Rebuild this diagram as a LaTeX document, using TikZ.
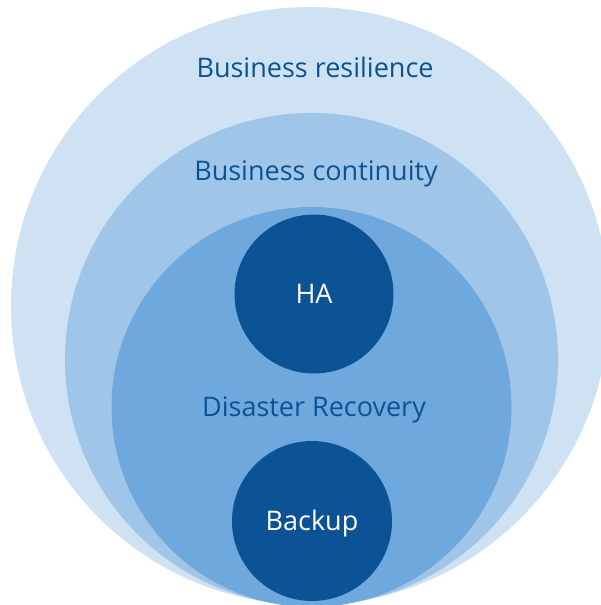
\documentclass[tikz,border=0pt]{standalone}
\usepackage{fontspec}
\setmainfont{Open Sans}
\usetikzlibrary{shapes}
\definecolor{ringA}{HTML}{CFE2F3}
\definecolor{ringB}{HTML}{9FC5E8}
\definecolor{ringC}{HTML}{6FA8DC}
\definecolor{core}{HTML}{0B5394}
\tikzstyle{ring} = [circle, inner sep=0pt, outer sep=0pt]
\tikzstyle{label} = [text=core, font=\fontsize{27}{32}\selectfont]
\tikzstyle{corelabel} = [text=white, font=\fontsize{27}{32}\selectfont]

\begin{document}
\begin{tikzpicture}[x=1pt, y=-1pt]

    \useasboundingbox (0,0) rectangle (601,605);
    \clip (0,0) rectangle (601,605);

    % Place rings
    \node [ring, fill=ringA, minimum size=598] (resilience) at (310,306) {};
    \node [ring, fill=ringB, minimum size=493] (continuity) at (311.5,359.5) {};
    \node [ring, fill=ringC, minimum size=400] (recovery) at (311.5,407) {};
    \node [ring, fill=core, minimum size=159] (ha) at (314,294) {};
    \node [ring, fill=core, minimum size=160] (backup) at (312,521) {};

    % Labels
    \node [label] (resiliencetext) at (315,67) {Business resilience};
    \node [label] (continuitytext) at (316,174) {Business continuity};
    \node [label] (recoverytext) at (314,410) {Disaster Recovery};
    \node [corelabel] at (ha) {HA};
    \node [corelabel] at ([yshift=-2]backup) {Backup};

\end{tikzpicture}
\end{document}
